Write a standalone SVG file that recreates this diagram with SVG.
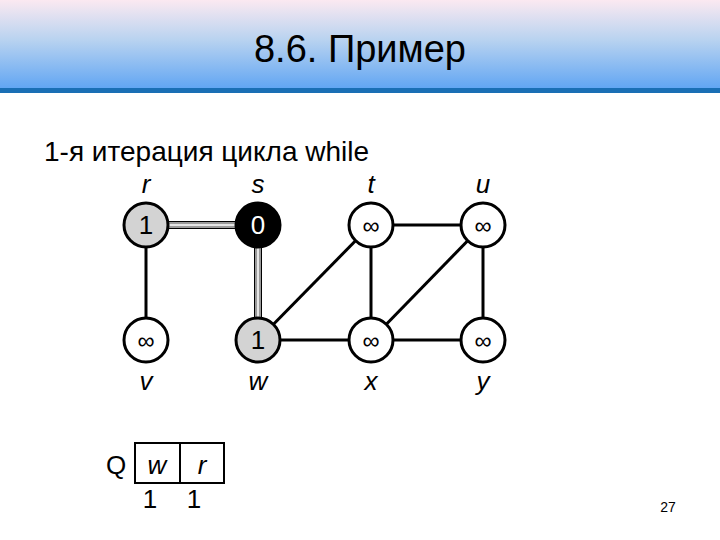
<svg xmlns="http://www.w3.org/2000/svg" width="720" height="540" viewBox="0 0 720 540">
<defs>
<linearGradient id="hg" x1="0" y1="0" x2="0" y2="1">
<stop offset="0" stop-color="#fbe9f1"/><stop offset="0.45" stop-color="#b9d3f0"/><stop offset="1" stop-color="#62a6f3"/>
</linearGradient>
<style>
text{font-family:"Liberation Sans",Arial,sans-serif;fill:#000}
.n{stroke:#000;stroke-width:3;fill:#fff}
.e{stroke:#000;stroke-width:3}
.lbl{font-size:26px;font-style:italic;text-anchor:middle}
.v{font-size:26px;text-anchor:middle}
.inf{font-size:24px;text-anchor:middle}
</style>
</defs>
<rect x="0" y="0" width="720" height="88" fill="url(#hg)"/>
<rect x="0" y="88" width="720" height="5" fill="#1a6fb5"/>
<text x="360" y="62" font-size="38" text-anchor="middle">8.6. Пример</text>
<text x="44" y="161" font-size="28">1-я итерация цикла while</text>
<g id="edges">
<line class="e" x1="146" y1="225" x2="146" y2="340"/>
<line class="e" x1="258" y1="340" x2="371" y2="225"/>
<line class="e" x1="258" y1="340" x2="371" y2="340"/>
<line class="e" x1="371" y1="225" x2="483" y2="225"/>
<line class="e" x1="371" y1="225" x2="371" y2="340"/>
<line class="e" x1="371" y1="340" x2="483" y2="225"/>
<line class="e" x1="371" y1="340" x2="483" y2="340"/>
<line class="e" x1="483" y1="225" x2="483" y2="340"/>
<line x1="146" y1="225" x2="258" y2="225" stroke="#000" stroke-width="8"/>
<line x1="146" y1="225" x2="258" y2="225" stroke="#999" stroke-width="6"/>
<line x1="146" y1="225" x2="258" y2="225" stroke="#fff" stroke-width="1.5"/>
<line x1="258" y1="225" x2="258" y2="340" stroke="#000" stroke-width="8"/>
<line x1="258" y1="225" x2="258" y2="340" stroke="#999" stroke-width="6"/>
<line x1="258" y1="225" x2="258" y2="340" stroke="#fff" stroke-width="1.5"/>
</g>
<g id="r"><circle class="n" cx="146" cy="225" r="22" fill="#d3d3d3" style="fill:#d3d3d3"/><text class="v" x="146" y="234">1</text><text class="lbl" x="146" y="193">r</text></g>
<g id="s"><circle class="n" cx="258" cy="225" r="22" style="fill:#000"/><text class="v" x="258" y="234" style="fill:#fff">0</text><text class="lbl" x="258" y="193">s</text></g>
<g id="t"><circle class="n" cx="371" cy="225" r="22"/><text class="inf" x="371" y="234">∞</text><text class="lbl" x="371" y="193">t</text></g>
<g id="u"><circle class="n" cx="483" cy="225" r="22"/><text class="inf" x="483" y="234">∞</text><text class="lbl" x="483" y="193">u</text></g>
<g id="v"><circle class="n" cx="146" cy="340" r="22"/><text class="inf" x="146" y="349">∞</text><text class="lbl" x="146" y="390">v</text></g>
<g id="w"><circle class="n" cx="258" cy="340" r="22" style="fill:#d3d3d3"/><text class="v" x="258" y="349">1</text><text class="lbl" x="258" y="390">w</text></g>
<g id="x"><circle class="n" cx="371" cy="340" r="22"/><text class="inf" x="371" y="349">∞</text><text class="lbl" x="371" y="390">x</text></g>
<g id="y"><circle class="n" cx="483" cy="340" r="22"/><text class="inf" x="483" y="349">∞</text><text class="lbl" x="483" y="390">y</text></g>
<g id="queue">
<text x="116" y="474" font-size="26" text-anchor="middle">Q</text>
<rect x="135" y="443" width="89" height="40" fill="none" stroke="#000" stroke-width="2"/>
<line x1="180" y1="443" x2="180" y2="483" stroke="#000" stroke-width="2"/>
<text class="lbl" x="157" y="474">w</text>
<text class="lbl" x="202" y="474">r</text>
<text class="v" x="150" y="508">1</text>
<text class="v" x="194" y="508">1</text>
</g>
<text x="668" y="512" font-size="14" text-anchor="middle">27</text>
</svg>
